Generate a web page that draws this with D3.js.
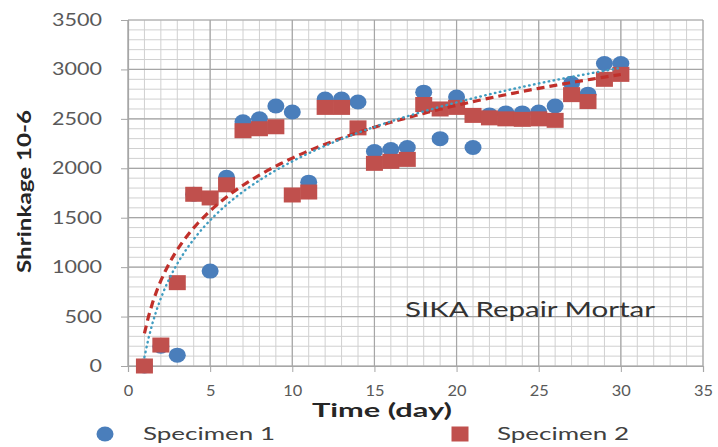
<!DOCTYPE html>
<html>
<head>
<meta charset="utf-8">
<script src="https://cdn.jsdelivr.net/npm/d3@7"></script>
<style>
  body { margin: 0; background: #fff; }
  svg { display: block; }
</style>
</head>
<body>
<svg id="chart" width="718" height="447"></svg>
<script>
// Shrinkage readings (x10^-6) for two mortar specimens over 30 days
const days = [1, 2, 3, 4, 5, 6, 7, 8, 9, 10, 11, 12, 13, 14, 15,
              16, 17, 18, 19, 20, 21, 22, 23, 24, 25, 26, 27, 28, 29, 30];
const specimen1 = [0, 200, 110, 1737, 960, 1910, 2470, 2500, 2630, 2570,
                   1860, 2700, 2700, 2670, 2170, 2190, 2210, 2770, 2300, 2720,
                   2210, 2540, 2560, 2560, 2570, 2630, 2860, 2750, 3060, 3060];
const specimen2 = [0, 212, 843, 1737, 1700, 1833, 2380, 2400, 2420, 1730,
                   1760, 2616, 2616, 2409, 2050, 2070, 2090, 2645, 2600, 2616,
                   2535, 2510, 2500, 2495, 2500, 2485, 2745, 2675, 2900, 2950];
// Logarithmic trendlines v = a*ln(t) + b, as [a, b] for each specimen
const trend1 = [860, 90];
const trend2 = [770, 330];
const trendRange = [1, 30];
const seriesNames = ["Specimen 1", "Specimen 2"];
const xTicks = [0, 5, 10, 15, 20, 25, 30, 35];
const yTicks = [0, 500, 1000, 1500, 2000, 2500, 3000, 3500];
const xTitle = "Time (day)";
const yTitle = "Shrinkage 10-6";
const note = "SIKA Repair Mortar";

const blue = "#4a7ebb";
const red = "#c0504d";
const font = "Lato, 'Open Sans', sans-serif";

const svg = d3.select("#chart");
const x = d3.scaleLinear().domain([0, 35]).range([128, 703]);
const y = d3.scaleLinear().domain([0, 3500]).range([366, 20]);

// Stretch text horizontally to a given width
function fit(sel, w) {
  return sel.attr("textLength", w).attr("lengthAdjust", "spacingAndGlyphs");
}

// Minor and major gridlines
const grid = svg.append("g");
grid.selectAll(".vminor").data(d3.range(0, 36, 1)).join("line")
  .attr("x1", d => x(d)).attr("x2", d => x(d))
  .attr("y1", y(0)).attr("y2", y(3500))
  .attr("stroke", "#d0d0d0").attr("stroke-width", 1);
grid.selectAll(".hminor").data(d3.range(0, 3501, 100)).join("line")
  .attr("y1", d => y(d)).attr("y2", d => y(d))
  .attr("x1", x(0)).attr("x2", x(35))
  .attr("stroke", "#d0d0d0").attr("stroke-width", 1);
grid.selectAll(".vmajor").data(xTicks).join("line")
  .attr("x1", d => x(d)).attr("x2", d => x(d))
  .attr("y1", y(0)).attr("y2", y(3500))
  .attr("stroke", "#a6a6a6").attr("stroke-width", 1.2);
grid.selectAll(".hmajor").data(yTicks).join("line")
  .attr("y1", d => y(d)).attr("y2", d => y(d))
  .attr("x1", x(0)).attr("x2", x(35))
  .attr("stroke", "#a6a6a6").attr("stroke-width", 1.2);

// Axes
const yAxis = svg.append("g").attr("transform", `translate(${x(0)},0)`)
  .call(d3.axisLeft(y).tickValues(yTicks).tickSize(7).tickPadding(19).tickFormat(d3.format("d")));
const xAxis = svg.append("g").attr("transform", `translate(0,${y(0)})`)
  .call(d3.axisBottom(x).tickValues(xTicks).tickSize(6).tickPadding(13).tickFormat(d3.format("d")));
[yAxis, xAxis].forEach(a => {
  a.select(".domain").attr("stroke", "#a6a6a6").attr("stroke-width", 1.2);
  a.selectAll(".tick line").attr("stroke", "#a6a6a6");
  a.selectAll(".tick text").attr("fill", "#595959")
    .style("font-family", font).style("font-size", "17px");
});
yAxis.selectAll(".tick text").each(function (d) {
  fit(d3.select(this), String(d).length * 12.5);
});
xAxis.selectAll(".tick text").style("font-size", "16px").each(function (d) {
  fit(d3.select(this), String(d).length * 9.5);
});

// Markers: specimen 1 circles beneath specimen 2 squares
const marks = svg.append("g");
marks.selectAll(".s1").data(days.map((d, i) => [d, specimen1[i]])).join("ellipse")
  .attr("cx", d => x(d[0])).attr("cy", d => y(d[1]))
  .attr("rx", 8.5).attr("ry", 7.5).attr("fill", blue);
marks.selectAll(".s2").data(days.map((d, i) => [d, specimen2[i]])).join("rect")
  .attr("x", d => x(d[0]) - 8.5).attr("y", d => y(d[1]) - 7.5)
  .attr("width", 17).attr("height", 15).attr("fill", red);

// Trend lines
const samples = d3.range(trendRange[0], trendRange[1] + 0.01, 0.25);
const trendLine = d3.line().x(d => x(d[0])).y(d => y(d[1]));
const curve = c => samples.map(t => [t, c[0] * Math.log(t) + c[1]]);
svg.append("path").datum(curve(trend2))
  .attr("d", trendLine).attr("fill", "none")
  .attr("stroke", "#c0302b").attr("stroke-width", 3.2)
  .attr("stroke-dasharray", "8,5");
svg.append("path").datum(curve(trend1))
  .attr("d", trendLine).attr("fill", "none")
  .attr("stroke", "#3f9cc0").attr("stroke-width", 2.4)
  .attr("stroke-linecap", "round").attr("stroke-dasharray", "0.5,4.5");

// Annotation
fit(svg.append("text").attr("x", 405).attr("y", 317)
  .attr("fill", "#333").style("font-family", font).style("font-size", "21px")
  .text(note), 250);

// Axis titles
fit(svg.append("text").attr("x", 312).attr("y", 417)
  .attr("fill", "#262626").style("font-family", font).style("font-size", "18px")
  .style("font-weight", "bold").text(xTitle), 140);
fit(svg.append("text").attr("transform", "translate(31,273) rotate(-90)")
  .attr("fill", "#262626").style("font-family", font).style("font-size", "19px")
  .style("font-weight", "bold").text(yTitle), 163);

// Legend
const legend = svg.append("g");
legend.append("ellipse").attr("cx", 105).attr("cy", 434)
  .attr("rx", 8.5).attr("ry", 7.5).attr("fill", blue);
fit(legend.append("text").attr("x", 143).attr("y", 440)
  .attr("fill", "#404040").style("font-family", font).style("font-size", "18px")
  .text(seriesNames[0]), 132);
legend.append("rect").attr("x", 451.5).attr("y", 426.5)
  .attr("width", 17).attr("height", 15).attr("fill", red);
fit(legend.append("text").attr("x", 497).attr("y", 440)
  .attr("fill", "#404040").style("font-family", font).style("font-size", "18px")
  .text(seriesNames[1]), 132);
</script>
</body>
</html>
